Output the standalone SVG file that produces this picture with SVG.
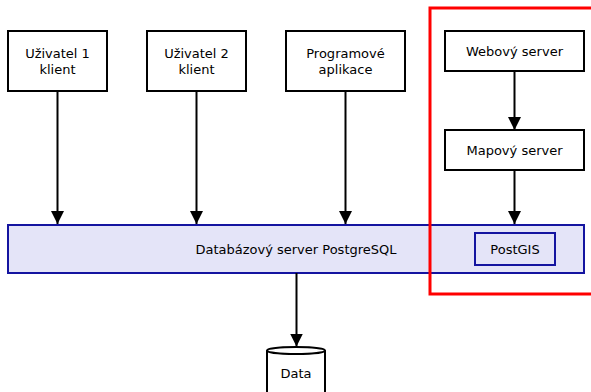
<svg xmlns="http://www.w3.org/2000/svg" width="591" height="392" viewBox="0 0 591 392">
<style>
.box{fill:#fff;stroke:#000;stroke-width:2}
.db{fill:#e4e4f8;stroke:#1414a0;stroke-width:2}
.pg{fill:none;stroke:#1414a0;stroke-width:2}
.t{font-family:"DejaVu Sans",sans-serif;font-size:13px;fill:#000;text-anchor:middle}
.c{stroke:#000;stroke-width:2;fill:none}
</style>
<defs>
<marker id="ah" markerUnits="userSpaceOnUse" markerWidth="14" markerHeight="13" refX="13" refY="6.5" orient="auto">
<path d="M0,0 L13,6.5 L0,13 Z" fill="#000"/>
</marker>
</defs>
<rect x="0" y="0" width="591" height="392" fill="#fff"/>
<g id="db">
<rect class="db" x="8" y="225" width="576" height="48"/>
<text class="t" x="296" y="254">Databázový server PostgreSQL</text>
</g>
<g id="postgis">
<rect class="pg" x="475" y="233" width="80" height="32"/>
<text class="t" x="515" y="254">PostGIS</text>
</g>
<g id="group">
<rect x="430" y="8" width="170" height="286" fill="none" stroke="#ff0000" stroke-width="3"/>
</g>
<g id="u1">
<rect class="box" x="8" y="31" width="99" height="60"/>
<text class="t" x="57.5" y="58">Uživatel 1</text>
<text class="t" x="57.5" y="74">klient</text>
</g>
<g id="u2">
<rect class="box" x="147" y="31" width="99" height="60"/>
<text class="t" x="196.5" y="58">Uživatel 2</text>
<text class="t" x="196.5" y="74">klient</text>
</g>
<g id="app">
<rect class="box" x="286" y="31" width="119" height="60"/>
<text class="t" x="345.5" y="58">Programové</text>
<text class="t" x="345.5" y="74">aplikace</text>
</g>
<g id="web">
<rect class="box" x="445" y="31" width="139" height="40"/>
<text class="t" x="514.5" y="56">Webový server</text>
</g>
<g id="map">
<rect class="box" x="445" y="130" width="139" height="40"/>
<text class="t" x="514.5" y="155">Mapový server</text>
</g>
<g id="data">
<path d="M267,350.5 L267,400 M325,350.5 L325,400" stroke="#000" stroke-width="2" fill="#fff"/>
<rect x="267" y="350.5" width="58" height="50" fill="#fff"/>
<path d="M267,350.5 L267,400 M325,350.5 L325,400" stroke="#000" stroke-width="2" fill="none"/>
<ellipse cx="296" cy="350.5" rx="29" ry="3.5" fill="#fff" stroke="#000" stroke-width="2"/>
<text class="t" x="296" y="378">Data</text>
</g>
<g id="connectors">
<line class="c" x1="57.5" y1="91" x2="57.5" y2="224" marker-end="url(#ah)"/>
<line class="c" x1="196.5" y1="91" x2="196.5" y2="224" marker-end="url(#ah)"/>
<line class="c" x1="345.5" y1="91" x2="345.5" y2="224" marker-end="url(#ah)"/>
<line class="c" x1="514.5" y1="71" x2="514.5" y2="130" marker-end="url(#ah)"/>
<line class="c" x1="514.5" y1="170" x2="514.5" y2="224" marker-end="url(#ah)"/>
<line class="c" x1="296.5" y1="273" x2="296.5" y2="346.5" marker-end="url(#ah)"/>
</g>
</svg>
